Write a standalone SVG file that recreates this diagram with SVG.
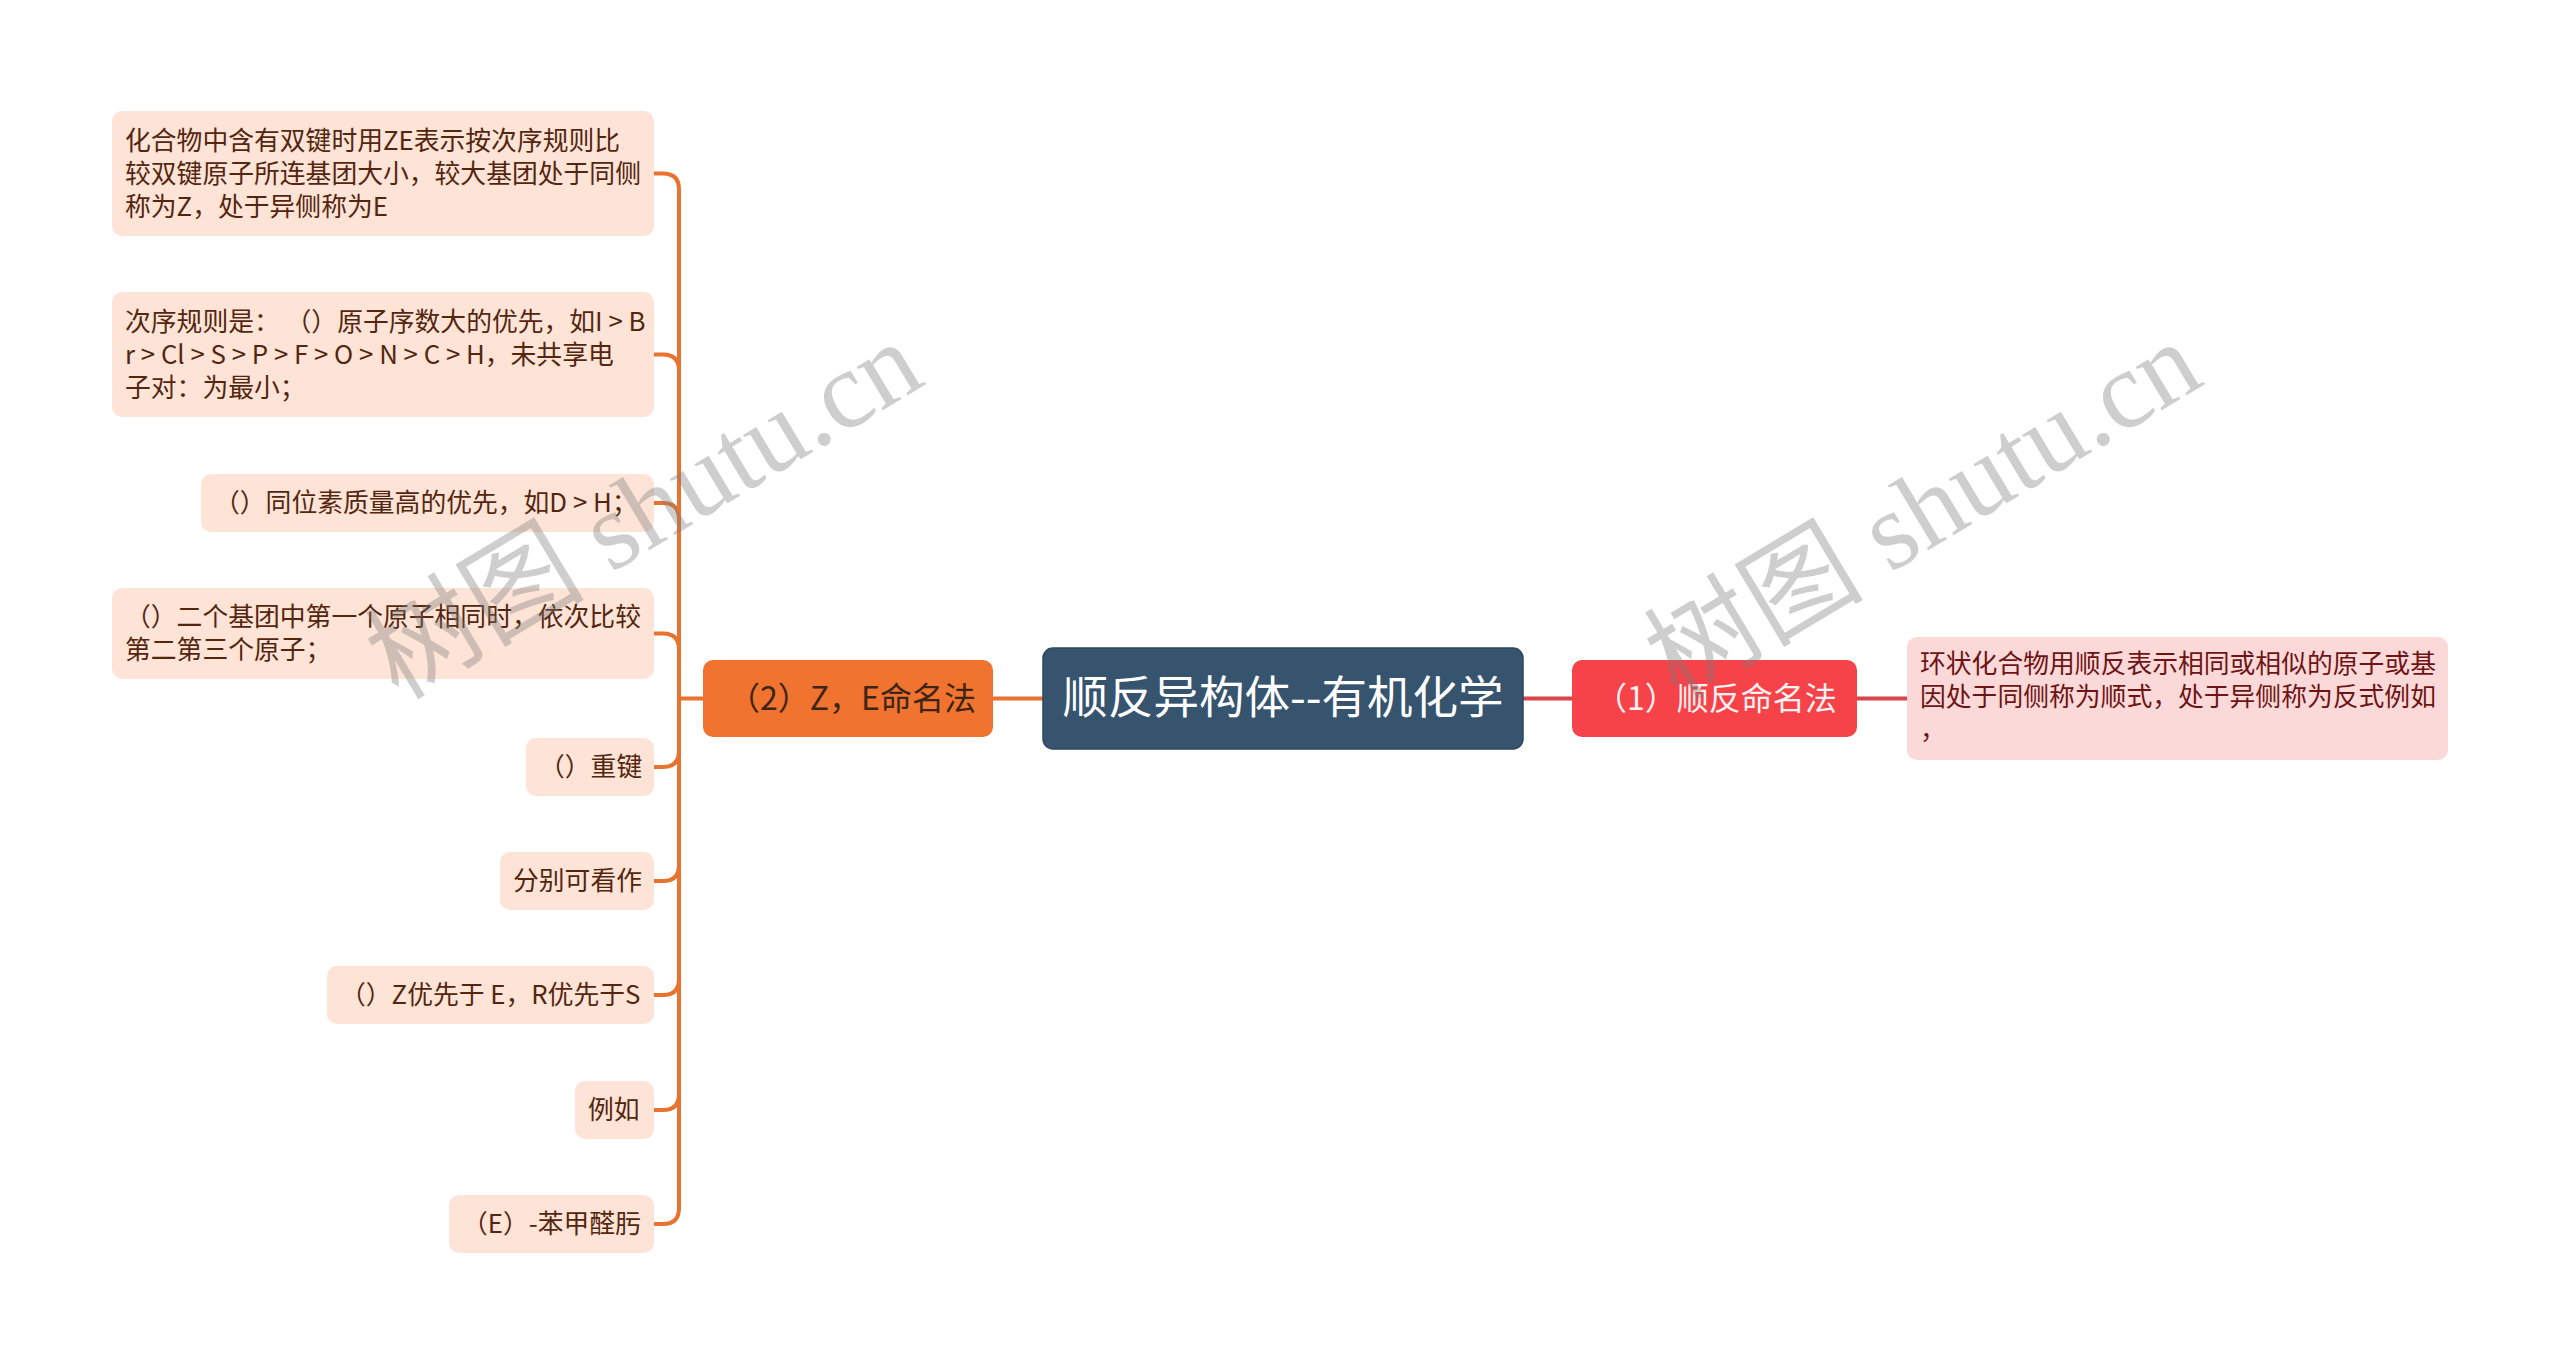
<svg xmlns="http://www.w3.org/2000/svg" width="2560" height="1364" viewBox="0 0 2560 1364">
<style>
text{font-family:"Noto Sans CJK SC","Noto Sans",sans-serif;}
.leaf rect{fill:#fde4d7;}
.leaf text{font-size:25.8px;fill:#55260f;}
.lc{fill:none;stroke:#e8732f;stroke-width:4;stroke-linecap:round;}
.rc{fill:none;stroke:#d8454b;stroke-width:4;}
.wm{font-family:"Liberation Serif","Noto Sans CJK SC",serif;font-size:110px;fill:#7a7a7a;opacity:0.36;}
</style>
<rect width="2560" height="1364" fill="#ffffff"/>
<g id="connectors">
<path class="lc" d="M993,698.5 H1043"/>
<path class="rc" d="M1523,698.5 H1572"/>
<path class="rc" d="M1857,698.5 H1907"/>
<path class="lc" d="M703,698.5 H679"/>
<path class="lc" d="M679,698.5 V189.5 Q679,173.5 663,173.5 H654"/>
<path class="lc" d="M679,698.5 V370.5 Q679,354.5 663,354.5 H654"/>
<path class="lc" d="M679,698.5 V519 Q679,503 663,503 H654"/>
<path class="lc" d="M679,698.5 V649.5 Q679,633.5 663,633.5 H654"/>
<path class="lc" d="M679,698.5 V751 Q679,767 663,767 H654"/>
<path class="lc" d="M679,698.5 V865 Q679,881 663,881 H654"/>
<path class="lc" d="M679,698.5 V979 Q679,995 663,995 H654"/>
<path class="lc" d="M679,698.5 V1094 Q679,1110 663,1110 H654"/>
<path class="lc" d="M679,698.5 V1208 Q679,1224 663,1224 H654"/>
</g>
<g id="root">
<rect x="1043" y="648" width="480" height="101" rx="10" fill="#37546f" stroke="#2e475e" stroke-width="1.5"/>
<text x="1283" y="714" font-size="45.5" fill="#ffffff" text-anchor="middle">顺反异构体--有机化学</text>
</g>
<g id="n2">
<rect x="703" y="660" width="290" height="77" rx="10" fill="#f07330"/>
<text x="852" y="710" font-size="32" fill="#3d2416" text-anchor="middle">（2）Z，E命名法</text>
</g>
<g id="n1">
<rect x="1572" y="660" width="285" height="77" rx="10" fill="#f6434a"/>
<text x="1716" y="710" font-size="32" fill="#fff1f1" text-anchor="middle">（1）顺反命名法</text>
</g>
<g id="r1">
<rect x="1907" y="637" width="541" height="123" rx="10" fill="#fcd9d9"/>
<text font-size="25.8" fill="#6e1414"><tspan x="1920" y="673">环状化合物用顺反表示相同或相似的原子或基</tspan><tspan x="1920" y="706">因处于同侧称为顺式，处于异侧称为反式例如</tspan><tspan x="1920" y="739">，</tspan></text>
</g>
<g id="l1" class="leaf">
<rect x="112" y="111" width="542" height="125" rx="10"/>
<text><tspan x="125" y="150">化合物中含有双键时用ZE表示按次序规则比</tspan><tspan x="125" y="183">较双键原子所连基团大小，较大基团处于同侧</tspan><tspan x="125" y="216">称为Z，处于异侧称为E</tspan></text>
</g>
<g id="l2" class="leaf">
<rect x="112" y="292" width="542" height="125" rx="10"/>
<text><tspan x="125" y="331">次序规则是： （）原子序数大的优先，如I &gt; B</tspan><tspan x="125" y="364">r &gt; Cl &gt; S &gt; P &gt; F &gt; O &gt; N &gt; C &gt; H，未共享电</tspan><tspan x="125" y="397">子对：为最小；</tspan></text>
</g>
<g id="l3" class="leaf">
<rect x="201" y="474" width="453" height="58" rx="10"/>
<text x="214" y="512">（）同位素质量高的优先，如D &gt; H；</text>
</g>
<g id="l4" class="leaf">
<rect x="112" y="588" width="542" height="91" rx="10"/>
<text><tspan x="125" y="626">（）二个基团中第一个原子相同时，依次比较</tspan><tspan x="125" y="659">第二第三个原子；</tspan></text>
</g>
<g id="l5" class="leaf">
<rect x="526" y="738" width="128" height="58" rx="10"/>
<text x="539" y="776">（）重键</text>
</g>
<g id="l6" class="leaf">
<rect x="500" y="852" width="154" height="58" rx="10"/>
<text x="513" y="890">分别可看作</text>
</g>
<g id="l7" class="leaf">
<rect x="327" y="966" width="327" height="58" rx="10"/>
<text x="340" y="1004">（）Z优先于 E，R优先于S</text>
</g>
<g id="l8" class="leaf">
<rect x="575" y="1081" width="79" height="58" rx="10"/>
<text x="588" y="1119">例如</text>
</g>
<g id="l9" class="leaf">
<rect x="449" y="1195" width="205" height="58" rx="10"/>
<text x="462" y="1233">（E）-苯甲醛肟</text>
</g>
<g id="watermark">
<text class="wm" text-anchor="middle" transform="translate(645,512) rotate(-31)" y="35">树图 shutu.cn</text>
<text class="wm" text-anchor="middle" transform="translate(1924,512) rotate(-31)" y="35">树图 shutu.cn</text>
</g>
</svg>
